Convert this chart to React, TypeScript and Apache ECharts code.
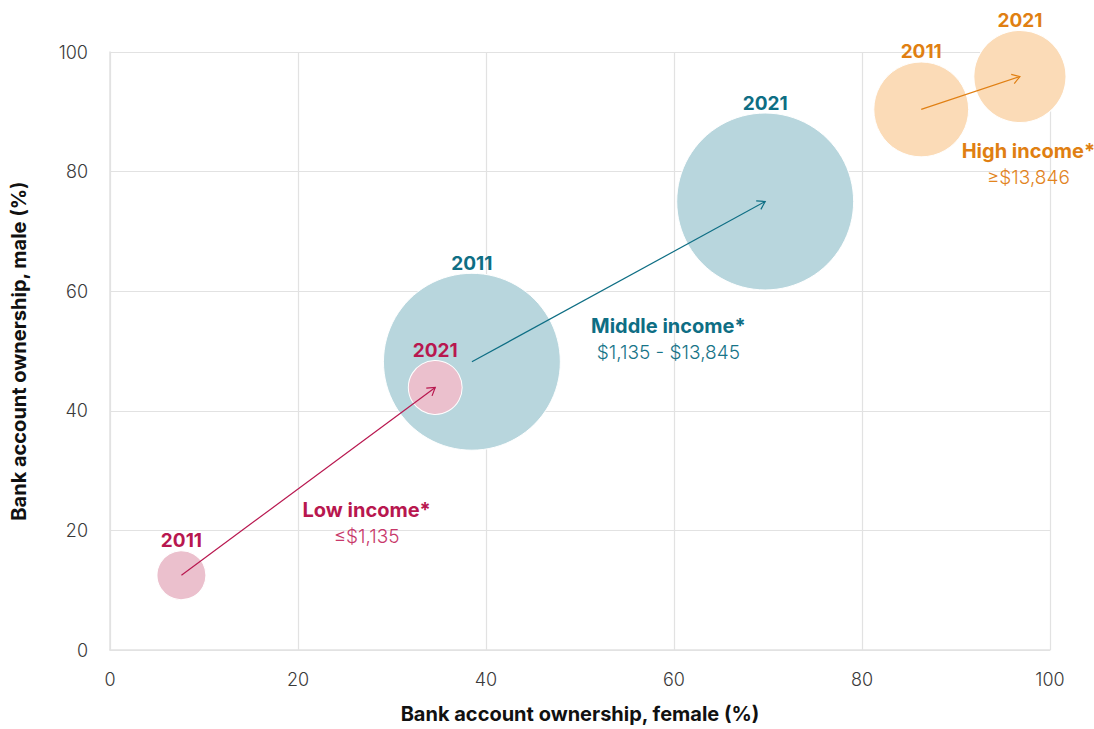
import React, { useEffect, useRef } from "react";
import * as echarts from "echarts";

const groups = ["Low income*", "Middle income*", "High income*"];
const incomeRanges = ["≤$1,135", "$1,135 - $13,845", "≥$13,846"];
const years = ["2011", "2021"];
const female2011 = [7.6, 38.5, 86.3];
const male2011 = [12.5, 48.2, 90.4];
const female2021 = [34.6, 69.7, 96.8];
const male2021 = [43.9, 75.0, 95.9];
const bubble2011 = [24, 313, 90];
const bubble2021 = [29, 313, 85];
// annotation anchors (data coords) for group labels
const groupLabelX = [27.3, 59.4, 97.7];
const groupLabelY = [21.2, 52.0, 81.2];
const xTicks = [0, 20, 40, 60, 80, 100];

const fillColors = ["#EBC0CD", "#B8D6DD", "#FBDBB7"];
const textColors = ["#B8174F", "#0E6E84", "#E07F12"];
const subColors = ["#C8386A", "#177488", "#E2841E"];

const FONT = "Inter, 'Noto Sans', sans-serif";

export default function App() {
  const ref = useRef<HTMLDivElement>(null);
  useEffect(() => {
    document.body.style.margin = "0";
    const chart = echarts.init(ref.current!, null, { renderer: "svg" });

    const order = [1, 2, 0];
    const bubbleSeries = order.map((g) => ({
      type: "scatter",
      name: groups[g],
      z: 2,
      data: [
        [female2011[g], male2011[g], bubble2011[g], years[0]],
        [female2021[g], male2021[g], bubble2021[g], years[1]],
      ],
      symbolSize: (v: any[]) => Math.sqrt(v[2]) * 10,
      itemStyle: {
        color: fillColors[g],
        opacity: 1,
        borderColor: "#ffffff",
        borderWidth: 1,
      },
      label: {
        show: true,
        position: "top",
        distance: 0,
        formatter: (p: any) => p.value[3],
        color: textColors[g],
        fontFamily: FONT,
        fontWeight: 700,
        fontSize: 19,
      },
      emphasis: { disabled: true },
      silent: true,
    }));

    const arrowData = groups.map((_, g) => [
      female2011[g],
      male2011[g],
      female2021[g],
      male2021[g],
      g,
    ]);

    const arrowSeries = {
      type: "custom",
      z: 3,
      clip: false,
      silent: true,
      data: arrowData,
      encode: { x: [0, 2], y: [1, 3] },
      renderItem: (_params: any, api: any) => {
        const p1 = api.coord([api.value(0), api.value(1)]);
        const p2 = api.coord([api.value(2), api.value(3)]);
        const g = api.value(4);
        const ang = Math.atan2(p2[1] - p1[1], p2[0] - p1[0]);
        const len = 9;
        const spread = Math.PI / 5.5;
        const a1 = [
          p2[0] - len * Math.cos(ang - spread),
          p2[1] - len * Math.sin(ang - spread),
        ];
        const a2 = [
          p2[0] - len * Math.cos(ang + spread),
          p2[1] - len * Math.sin(ang + spread),
        ];
        const stroke = textColors[g];
        return {
          type: "group",
          children: [
            {
              type: "line",
              shape: { x1: p1[0], y1: p1[1], x2: p2[0], y2: p2[1] },
              style: { stroke, lineWidth: 1.2 },
            },
            {
              type: "polyline",
              shape: { points: [a1, p2, a2] },
              style: { stroke, lineWidth: 1.2, fill: null },
            },
          ],
        };
      },
    };

    const labelSeries = {
      type: "scatter",
      z: 4,
      silent: true,
      symbolSize: 1,
      itemStyle: { color: "rgba(0,0,0,0)", opacity: 1 },
      emphasis: { disabled: true },
      data: groups.map((_, g) => ({
        value: [groupLabelX[g], groupLabelY[g]],
        label: {
          show: true,
          position: "inside",
          formatter: `{a|${groups[g]}}\n{b|${incomeRanges[g]}}`,
          rich: {
            a: {
              fontFamily: FONT,
              fontWeight: 700,
              fontSize: 20,
              lineHeight: 26,
              color: textColors[g],
              align: "center",
            },
            b: {
              fontFamily: FONT,
              fontWeight: 300,
              fontSize: 19,
              lineHeight: 26,
              color: subColors[g],
              align: "center",
            },
          },
        },
      })),
    };

    chart.setOption({
      animation: false,
      grid: { left: 110, right: 44, top: 52, bottom: 76, containLabel: false },
      xAxis: {
        type: "value",
        min: 0,
        max: 100,
        interval: 20,
        name: "Bank account ownership, female (%)",
        nameLocation: "middle",
        nameGap: 54,
        nameTextStyle: {
          fontFamily: FONT,
          fontWeight: 700,
          fontSize: 20,
          color: "#111",
        },
        axisLine: { show: true, lineStyle: { color: "#e2e2e2", width: 1.5 } },
        axisTick: { show: false },
        splitLine: { show: true, lineStyle: { color: "#e2e2e2", width: 1.2 } },
        axisLabel: {
          margin: 20,
          fontFamily: FONT,
          fontWeight: 300,
          fontSize: 18,
          color: "#3a3a3a",
          formatter: (v: number) => (xTicks.includes(v) ? String(v) : ""),
        },
      },
      yAxis: {
        type: "value",
        min: 0,
        max: 100,
        interval: 20,
        name: "Bank account ownership, male (%)",
        nameLocation: "middle",
        nameGap: 81,
        nameTextStyle: {
          fontFamily: FONT,
          fontWeight: 700,
          fontSize: 20,
          color: "#111",
        },
        axisLine: { show: true, lineStyle: { color: "#e2e2e2", width: 1.5 } },
        axisTick: { show: false },
        splitLine: { show: true, lineStyle: { color: "#e2e2e2", width: 1.2 } },
        axisLabel: {
          margin: 22,
          fontFamily: FONT,
          fontWeight: 300,
          fontSize: 18,
          color: "#3a3a3a",
        },
      },
      series: [...bubbleSeries, arrowSeries, labelSeries],
    });

    return () => chart.dispose();
  }, []);

  return (
    <div
      ref={ref}
      style={{ position: "absolute", left: 0, top: 0, width: 1094, height: 729 }}
    />
  );
}
